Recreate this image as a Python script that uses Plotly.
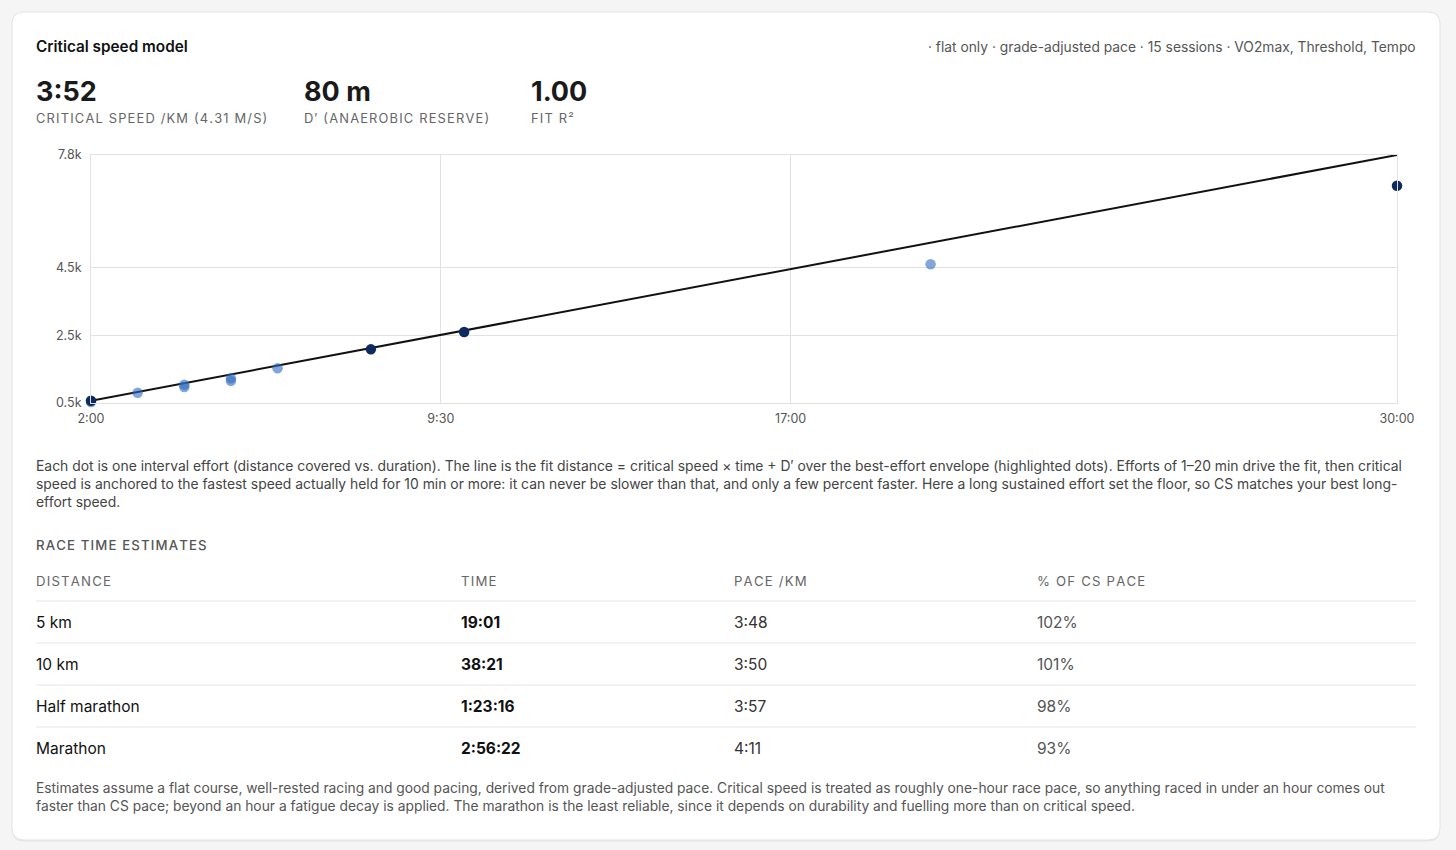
import plotly.graph_objects as go

# interval efforts: duration (s) vs distance (m)
effort_sec = [120, 180, 240, 240, 300, 300, 360, 1200]
effort_m = [560, 830, 1070, 1000, 1255, 1180, 1550, 4620]
# best-effort envelope (highlighted dots)
best_sec = [120, 480, 600, 1800]
best_m = [597, 2110, 2620, 6930]
# fitted line end points
fit_sec = [120, 1800]
fit_m = [597, 7838]

x_ticks = [120, 570, 1020, 1800]
x_labels = ["2:00", "9:30", "17:00", "30:00"]
y_ticks = [529, 2529, 4529, 7838]
y_labels = ["0.5k", "2.5k", "4.5k", "7.8k"]

stat_values = ["3:52", "80 m", "1.00"]
stat_labels = ["CRITICAL SPEED /KM (4.31 M/S)", "D′ (ANAEROBIC RESERVE)", "FIT R²"]

race_headers = ["DISTANCE", "TIME", "PACE /KM", "% OF CS PACE"]
race_dist = ["5 km", "10 km", "Half marathon", "Marathon"]
race_time = ["19:01", "38:21", "1:23:16", "2:56:22"]
race_pace = ["3:48", "3:50", "3:57", "4:11"]
race_pct = ["102%", "101%", "98%", "93%"]

FONT = "Inter, Roboto, sans-serif"
W, H = 1456, 850
L, R, T, B = 91, 1397, 155, 403  # plot area in pixels


def px(x):
    return (x - L) / (R - L)


def py(y):
    return (B - y) / (B - T)


def spaced(s):
    # poor man's letter-spacing for the small caps labels
    return "\u200a".join(s)


fig = go.Figure()
fig.add_trace(go.Scatter(x=fit_sec, y=fit_m, mode="lines", cliponaxis=False,
                         line=dict(color="#111111", width=2), hoverinfo="skip"))
fig.add_trace(go.Scatter(x=effort_sec, y=effort_m, mode="markers", cliponaxis=False,
                         marker=dict(size=10.5, color="#2f6bc0", opacity=0.6)))
fig.add_trace(go.Scatter(x=best_sec, y=best_m, mode="markers", cliponaxis=False,
                         marker=dict(size=10.5, color="#0d2b5e")))

ann = []


def text(x, y, s, size=13.8, color="#555", anchor="left", weight=400):
    ann.append(dict(x=px(x), y=py(y), xref="paper", yref="paper", text=s,
                    showarrow=False, xanchor=anchor, yanchor="middle",
                    font=dict(family=FONT, size=size, color=color, weight=weight)))


text(34, 46, "Critical speed model", size=15.3, color="#111", weight=600)
text(1418, 47, "· flat only · grade-adjusted pace · 15 sessions · VO2max, Threshold, Tempo",
     color="#555", anchor="right")

stat_x = [34, 302, 529]
for i in range(3):
    text(stat_x[i], 91, stat_values[i], size=27, color="#1a1a1a", weight=700)
    text(stat_x[i], 118, spaced(stat_labels[i]), size=12.9, color="#666")

para1 = ("Each dot is one interval effort (distance covered vs. duration). The line is the fit distance = critical speed × time + D′ over the best-effort envelope (highlighted dots). Efforts of 1–20 min drive the fit, then critical<br>"
         "speed is anchored to the fastest speed actually held for 10 min or more: it can never be slower than that, and only a few percent faster. Here a long sustained effort set the floor, so CS matches your best long-<br>"
         "effort speed.")
ann.append(dict(x=px(34), y=py(456), xref="paper", yref="paper", text=para1, showarrow=False,
                xanchor="left", yanchor="top", align="left",
                font=dict(family=FONT, size=13.9, color="#444")))

text(34, 545, spaced("RACE TIME ESTIMATES"), size=13.2, color="#555", weight=500)

col_x = [34, 459, 732, 1035]
for i, h in enumerate(race_headers):
    text(col_x[i], 581, spaced(h), size=13.2, color="#666")

row_y = [622, 664, 706, 748]
for i in range(4):
    text(col_x[0], row_y[i], race_dist[i], size=15.5, color="#111")
    text(col_x[1], row_y[i], race_time[i], size=15.5, color="#111", weight=700)
    text(col_x[2], row_y[i], race_pace[i], size=15.5, color="#333")
    text(col_x[3], row_y[i], race_pct[i], size=15.5, color="#555")

para2 = ("Estimates assume a flat course, well-rested racing and good pacing, derived from grade-adjusted pace. Critical speed is treated as roughly one-hour race pace, so anything raced in under an hour comes out<br>"
         "faster than CS pace; beyond an hour a fatigue decay is applied. The marathon is the least reliable, since it depends on durability and fuelling more than on critical speed.")
ann.append(dict(x=px(34), y=py(778), xref="paper", yref="paper", text=para2, showarrow=False,
                xanchor="left", yanchor="top", align="left",
                font=dict(family=FONT, size=13.8, color="#555")))

shapes = []


def card_path(x0, y0, x1, y1, r):
    rx = r / (R - L)
    ry = r / (B - T)
    a, b, c, d = px(x0), py(y1), px(x1), py(y0)
    return (f"M{a + rx},{b} L{c - rx},{b} Q{c},{b} {c},{b + ry} "
            f"L{c},{d - ry} Q{c},{d} {c - rx},{d} L{a + rx},{d} "
            f"Q{a},{d} {a},{d - ry} L{a},{b + ry} Q{a},{b} {a + rx},{b} Z")


shapes.append(dict(type="path", xref="paper", yref="paper", layer="below",
                   path=card_path(12, 13, 1440, 841.5, 12),
                   fillcolor="#e6e6e6", line=dict(width=0)))
shapes.append(dict(type="path", xref="paper", yref="paper", layer="below",
                   path=card_path(12, 12, 1440, 840, 12),
                   fillcolor="white", line=dict(color="#e3e3e3", width=1)))

for y in [601, 643, 685, 727]:
    shapes.append(dict(type="line", xref="paper", yref="paper",
                       x0=px(36), x1=px(1416), y0=py(y), y1=py(y),
                       line=dict(color="#e6e6e6", width=1)))

fig.update_layout(
    width=W, height=H,
    margin=dict(l=L, r=W - R, t=T, b=H - B),
    paper_bgcolor="#f5f5f5", plot_bgcolor="white",
    showlegend=False,
    annotations=ann, shapes=shapes,
    font=dict(family=FONT, size=12, color="#555"),
    xaxis=dict(range=[fit_sec[0], fit_sec[1]], tickvals=x_ticks, ticktext=x_labels,
               showgrid=True, gridcolor="#e2e2e2", zeroline=False,
               showline=True, mirror=True, linecolor="#e2e2e2", linewidth=1,
               ticks="", ticklabelstandoff=4, tickfont=dict(size=12.5, color="#555")),
    yaxis=dict(range=[y_ticks[0], y_ticks[-1]], tickvals=y_ticks, ticktext=y_labels,
               showgrid=True, gridcolor="#e2e2e2", zeroline=False,
               showline=True, mirror=True, linecolor="#e2e2e2", linewidth=1,
               ticks="", ticklabelstandoff=6, tickfont=dict(size=12.5, color="#555")),
)

fig.write_html("out.html", config={"displayModeBar": False},
               post_script="document.body.style.margin='0';")
